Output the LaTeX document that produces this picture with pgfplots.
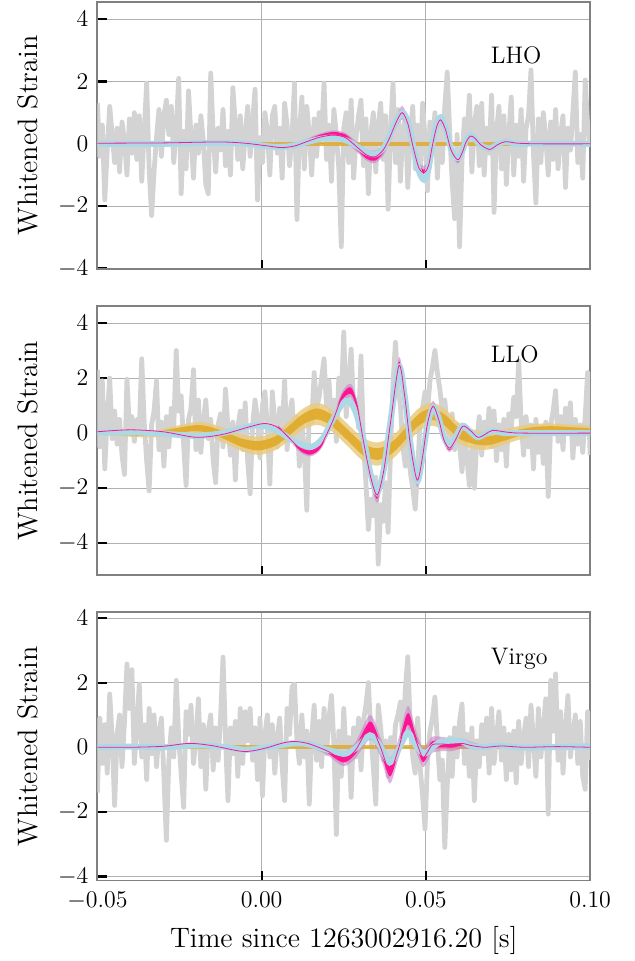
\documentclass[border=0pt]{standalone}
\usepackage{pgfplots}
\pgfplotsset{compat=1.18}
\usepackage{pgfplotstable}

\definecolor{noisegray}{HTML}{D3D3D3}
\definecolor{gridgray}{HTML}{B0B0B0}
\definecolor{framegray}{HTML}{808080}
\definecolor{pinkmed}{HTML}{FF1493}
\definecolor{pinkhalo}{HTML}{CC80C8}
\definecolor{bluemed}{HTML}{ADD8E6}
\definecolor{goldin}{HTML}{E0A723}
\definecolor{goldout}{HTML}{EACB7E}

% whitened detector data, one sample every 0.75 ms from -0.05 s
\pgfplotstableread[row sep=\\]{h\\
1.3\\ -0.4\\ 0.6\\ -1.8\\ -0.2\\ 1.2\\ 0.3\\ -0.6\\ 0.5\\ -0.9\\
0.7\\ 0.1\\ -1.0\\ 0.8\\ -0.3\\ 1.0\\ -0.5\\ 0.9\\ -1.2\\ 0.4\\
1.95\\ -0.8\\ -2.3\\ -0.9\\ 0.2\\ 1.1\\ -0.4\\ 0.9\\ 1.4\\ 0.3\\
1.2\\ -0.6\\ 0.5\\ 2.1\\ -1.6\\ 0.4\\ -0.8\\ 1.7\\ 0.2\\ -1.1\\
0.6\\ -0.3\\ 0.9\\ 0.1\\ -1.3\\ -1.6\\ 2.27\\ 0.3\\ -0.9\\ 0.5\\
-0.2\\ 1.1\\ -0.7\\ 0.4\\ -1.0\\ 1.8\\ 0.6\\ -0.5\\ 0.9\\ -0.8\\
0.3\\ 1.2\\ -0.4\\ 0.7\\ 1.75\\ -1.8\\ 0.2\\ -0.6\\ 1.0\\ 0.4\\
-1.0\\ 0.9\\ 1.2\\ -0.3\\ 0.5\\ -1.1\\ 1.3\\ 0.6\\ -0.7\\ 0.2\\
1.95\\ -2.43\\ 0.4\\ 1.5\\ -0.8\\ 1.2\\ 0.3\\ -1.0\\ 0.8\\ -0.4\\
1.0\\ 0.2\\ 1.95\\ -0.5\\ 0.6\\ -1.2\\ 1.1\\ 0.3\\ -0.8\\ -3.3\\
0.5\\ 1.0\\ -0.6\\ 1.4\\ -1.1\\ 0.2\\ 0.9\\ 1.4\\ -0.7\\ 0.8\\
-1.6\\ 0.3\\ 1.0\\ -0.9\\ 0.6\\ 1.3\\ -0.5\\ 0.9\\ -2.1\\ 0.4\\
1.95\\ -0.6\\ 1.1\\ -1.2\\ 0.5\\ 0.8\\ -1.4\\ 0.3\\ 1.2\\ -0.8\\
0.6\\ -1.0\\ 1.3\\ 0.2\\ -1.5\\ 0.7\\ -0.3\\ 1.0\\ -1.1\\ 0.5\\
-0.6\\ 1.2\\ 2.3\\ 0.4\\ -1.2\\ -2.4\\ 0.3\\ -3.3\\ -0.5\\ 0.8\\
0.2\\ 1.56\\ -0.9\\ 0.6\\ 1.2\\ -0.7\\ 1.3\\ -1.0\\ 0.5\\ -0.3\\
1.56\\ -2.2\\ 0.4\\ 1.2\\ -0.8\\ 0.9\\ -1.3\\ 0.3\\ 1.5\\ -1.0\\
0.6\\ -0.4\\ 1.1\\ -1.2\\ 0.5\\ 0.9\\ 2.37\\ -0.3\\ -1.9\\ 0.8\\
-0.6\\ 1.0\\ 0.2\\ -1.0\\ 0.7\\ -0.5\\ 1.1\\ -0.8\\ 0.3\\ 0.9\\
-1.4\\ 0.5\\ -0.2\\ 1.0\\ 2.3\\ -0.6\\ 0.3\\ -1.1\\ 2.05\\ 0.6\\
-0.1\\
}\noiseLHO

\pgfplotstableread[row sep=\\]{h\\
2.3\\ -0.5\\ 1.9\\ -1.3\\ 0.6\\ 2.0\\ -0.2\\ 0.8\\ -0.4\\ 0.5\\
-0.8\\ -1.5\\ 1.96\\ 0.2\\ 0.6\\ -0.3\\ 0.5\\ 0.1\\ 2.7\\ 0.4\\
-1.0\\ -2.1\\ 0.3\\ 0.8\\ 1.9\\ -0.6\\ 0.4\\ -1.2\\ 0.6\\ -0.5\\
0.9\\ 0.2\\ 3.0\\ 0.8\\ 1.35\\ -0.4\\ -1.9\\ 0.5\\ 0.9\\ 2.3\\
-0.6\\ 1.2\\ -0.7\\ 0.4\\ 1.2\\ -0.2\\ 0.5\\ -1.0\\ -1.8\\ 0.3\\
0.7\\ -0.5\\ 1.6\\ 0.2\\ -0.8\\ 0.4\\ -1.7\\ 0.2\\ 0.8\\ -0.6\\
1.1\\ -1.0\\ -2.2\\ 0.3\\ 1.2\\ 0.5\\ -0.9\\ 1.0\\ 1.5\\ 0.2\\
-1.85\\ 1.5\\ 0.4\\ -0.5\\ 0.9\\ 0.1\\ 1.9\\ -0.6\\ 0.7\\ 1.2\\
-0.3\\ 0.6\\ -1.2\\ 0.3\\ -0.6\\ -2.8\\ 0.8\\ 0.4\\ 2.2\\ 0.9\\
1.3\\ 2.0\\ 2.7\\ 1.0\\ 1.9\\ 0.4\\ 1.2\\ -0.3\\ 2.0\\ 1.1\\
3.67\\ 0.6\\ 1.8\\ 3.05\\ 0.9\\ 1.2\\ 0.2\\ 2.8\\ -0.4\\ -1.8\\
-3.5\\ -2.4\\ -3.0\\ -1.6\\ -4.76\\ -2.6\\ -3.2\\ -1.8\\ -3.6\\ -0.6\\
1.8\\ 3.3\\ 1.7\\ 1.0\\ -0.5\\ -1.2\\ 0.2\\ -1.4\\ -2.0\\ -2.76\\
-1.3\\ 0.4\\ 0.9\\ 1.5\\ 0.8\\ 1.9\\ 2.4\\ 3.0\\ 2.2\\ 1.6\\
0.8\\ 1.2\\ 0.3\\ -0.2\\ 0.7\\ -0.6\\ 0.3\\ -0.4\\ -1.4\\ 0.2\\
-0.9\\ -1.9\\ -0.5\\ -2.0\\ -0.3\\ 0.6\\ -0.8\\ 0.4\\ -0.2\\ 0.9\\
-0.5\\ 0.8\\ -1.0\\ 0.3\\ -0.6\\ 0.5\\ -1.2\\ 0.7\\ 0.2\\ 1.3\\
0.6\\ 2.63\\ 0.4\\ -0.8\\ 0.6\\ -0.5\\ 0.3\\ -1.3\\ 0.5\\ -0.7\\
0.2\\ -1.1\\ 0.4\\ -2.3\\ 0.3\\ 0.8\\ 1.54\\ -0.3\\ 0.6\\ -0.6\\
0.9\\ 0.3\\ 1.1\\ -0.9\\ 0.5\\ -0.4\\ 0.3\\ -0.7\\ 0.6\\ 2.2\\
-0.8\\
}\noiseLLO

\pgfplotstableread[row sep=\\]{h\\
-1.4\\ 0.9\\ -0.5\\ 0.7\\ -0.8\\ 1.65\\ 0.3\\ -1.8\\ 0.4\\ 1.0\\
-0.6\\ 0.8\\ 2.58\\ 1.2\\ 2.4\\ -0.5\\ 0.6\\ 1.96\\ -0.3\\ 0.7\\
-1.0\\ 1.2\\ -0.2\\ 1.0\\ -0.6\\ 0.5\\ 0.9\\ -0.9\\ -2.88\\ -0.4\\
0.6\\ -0.3\\ 2.07\\ 0.3\\ -0.8\\ -1.86\\ 1.1\\ 0.4\\ 1.3\\ -0.5\\
0.2\\ 1.5\\ -0.6\\ 0.7\\ -1.3\\ 0.5\\ 1.0\\ -0.7\\ 0.6\\ -0.4\\
0.9\\ 2.79\\ 0.3\\ -1.65\\ 0.6\\ -0.2\\ 0.8\\ -0.9\\ 1.2\\ -0.5\\
1.1\\ 0.2\\ 1.2\\ -0.4\\ 0.6\\ -1.0\\ 0.9\\ -1.5\\ 0.4\\ 1.0\\
-0.3\\ 0.7\\ -0.8\\ 0.3\\ 0.9\\ -0.6\\ -1.65\\ 1.2\\ 0.4\\ 1.86\\
1.96\\ 0.2\\ -0.5\\ 1.0\\ -0.3\\ 0.5\\ -1.76\\ 0.3\\ 1.3\\ -0.4\\
0.8\\ -0.6\\ 1.2\\ -0.2\\ 0.9\\ 1.6\\ 0.1\\ -2.7\\ 0.5\\ -0.9\\
1.2\\ -0.4\\ 0.3\\ -1.55\\ 0.6\\ -0.3\\ 0.9\\ -0.7\\ 0.8\\ 1.3\\
2.0\\ 0.4\\ -0.6\\ -1.76\\ 1.3\\ 0.6\\ -0.4\\ 0.2\\ -0.9\\ 0.3\\
-0.5\\ 0.7\\ 1.0\\ 1.4\\ 0.2\\ 1.8\\ 2.8\\ 0.6\\ -0.3\\ -0.8\\
0.9\\ -0.6\\ -1.5\\ -2.53\\ -0.4\\ 0.5\\ 0.9\\ 1.55\\ 0.2\\ -1.0\\
-0.4\\ -3.1\\ -1.2\\ 0.3\\ -0.9\\ 0.6\\ -0.3\\ 0.8\\ 1.34\\ -0.5\\
0.4\\ -0.9\\ 0.6\\ -1.65\\ 0.2\\ -0.6\\ 0.7\\ -0.2\\ 0.9\\ -0.8\\
1.2\\ -0.5\\ 0.3\\ 1.1\\ -0.4\\ 0.6\\ -1.0\\ 0.4\\ -0.7\\ 0.5\\
-1.1\\ 0.8\\ -0.5\\ 0.3\\ 0.9\\ -0.6\\ 1.3\\ 0.2\\ -0.9\\ 1.2\\
-0.3\\ 0.6\\ 1.5\\ -2.07\\ 2.07\\ 0.5\\ 2.27\\ -0.4\\ 1.1\\ -0.8\\
0.6\\ 1.6\\ -0.3\\ 0.4\\ 1.0\\ -0.5\\ 0.8\\ -0.9\\ -1.3\\ 1.1\\
-0.4\\
}\noiseVirgo

% median waveforms
\pgfplotstableread[row sep=\\]{t h\\
-0.05 0\\ -0.03 0\\ -0.02 0.02\\ -0.012 0.03\\ -0.004 0\\ 0.002 -0.08\\ 0.006 -0.1\\
0.010 -0.05\\ 0.014 0.06\\ 0.018 0.16\\ 0.022 0.2\\ 0.026 0.1\\ 0.029 -0.08\\
0.032 -0.28\\ 0.0345 -0.34\\ 0.037 -0.15\\ 0.039 0.25\\ 0.041 0.75\\ 0.043 1.0\\
0.0445 0.7\\ 0.046 0\\ 0.0478 -0.85\\ 0.0494 -1.15\\ 0.0508 -0.8\\ 0.052 0\\
0.0533 0.65\\ 0.0546 0.85\\ 0.056 0.5\\ 0.0575 -0.1\\ 0.0588 -0.4\\ 0.0600 -0.45\\
0.0612 -0.2\\ 0.0622 0.1\\ 0.0636 0.27\\ 0.065 0.15\\ 0.0667 -0.05\\ 0.0694 -0.15\\
0.0718 -0.02\\ 0.0742 0.07\\ 0.078 0\\ 0.085 0.01\\ 0.1 0\\
}\lhoBlue

\pgfplotstableread[row sep=\\]{t h\\
-0.05 0.02\\ -0.03 0.03\\ -0.02 0.05\\ -0.012 0.06\\ -0.005 0.02\\ 0.002 -0.07\\
0.006 -0.12\\ 0.010 -0.07\\ 0.014 0.08\\ 0.018 0.22\\ 0.022 0.28\\ 0.0255 0.2\\
0.029 -0.1\\ 0.032 -0.36\\ 0.0345 -0.42\\ 0.037 -0.2\\ 0.039 0.2\\ 0.041 0.7\\
0.0428 1.0\\ 0.0445 0.65\\ 0.046 -0.05\\ 0.0478 -0.75\\ 0.0494 -0.93\\ 0.0508 -0.7\\
0.052 -0.05\\ 0.0533 0.55\\ 0.0545 0.77\\ 0.056 0.45\\ 0.0575 -0.15\\ 0.059 -0.45\\
0.060 -0.5\\ 0.0612 -0.25\\ 0.0622 0.05\\ 0.0636 0.25\\ 0.065 0.17\\ 0.0667 -0.03\\
0.0694 -0.18\\ 0.0718 -0.03\\ 0.0742 0.07\\ 0.078 0.02\\ 0.085 0\\ 0.1 0\\
}\lhoPink

\pgfplotstableread[row sep=\\]{t h\\
-0.05 0.02\\ -0.04 0.03\\ -0.03 -0.02\\ -0.02 -0.1\\ -0.012 0\\ -0.006 0.18\\
-0.002 0.28\\ 0.002 0.22\\ 0.006 0\\ 0.010 -0.3\\ 0.015 -0.5\\ 0.0185 -0.2\\
0.0215 0.45\\ 0.0245 1.05\\ 0.0265 1.17\\ 0.0285 0.8\\ 0.031 -0.2\\ 0.0332 -1.5\\
0.0352 -2.16\\ 0.0372 -1.3\\ 0.0392 0.4\\ 0.0418 2.4\\ 0.0435 1.4\\ 0.0452 -0.3\\
0.0473 -1.73\\ 0.0488 -1.0\\ 0.0505 0.3\\ 0.0523 0.94\\ 0.0540 0.5\\ 0.0555 -0.15\\
0.0572 -0.46\\ 0.059 -0.15\\ 0.0612 0.27\\ 0.0635 0.05\\ 0.0658 -0.15\\ 0.068 -0.03\\
0.0703 0.08\\ 0.074 0\\ 0.08 0\\ 0.1 0\\
}\lloBlue

\pgfplotstableread[row sep=\\]{t h\\
-0.05 0.05\\ -0.04 0.12\\ -0.03 0.05\\ -0.02 -0.15\\ -0.012 -0.05\\ -0.004 0.22\\
0.001 0.35\\ 0.005 0.2\\ 0.009 -0.25\\ 0.012 -0.6\\ 0.015 -0.7\\ 0.018 -0.45\\
0.0215 0.4\\ 0.0245 1.3\\ 0.0272 1.54\\ 0.0292 0.9\\ 0.031 -0.3\\ 0.0332 -1.6\\
0.0352 -2.25\\ 0.0372 -1.35\\ 0.0392 0.35\\ 0.0418 2.45\\ 0.0435 1.4\\ 0.0452 -0.35\\
0.0473 -1.7\\ 0.0488 -1.0\\ 0.0505 0.35\\ 0.0522 0.98\\ 0.054 0.45\\ 0.0555 -0.25\\
0.0572 -0.55\\ 0.059 -0.25\\ 0.0612 0.25\\ 0.0635 0.1\\ 0.0658 -0.15\\ 0.068 -0.05\\
0.0703 0.1\\ 0.075 0.03\\ 0.08 0\\ 0.1 0\\
}\lloPink

\pgfplotstableread[row sep=\\]{t h\\
-0.05 0\\ -0.04 0.02\\ -0.03 0\\ -0.02 0.06\\ -0.012 0.02\\ -0.005 -0.08\\
0.0 -0.02\\ 0.005 0.05\\ 0.0095 0.12\\ 0.014 0.1\\ 0.019 -0.05\\ 0.0225 -0.14\\
0.0255 -0.2\\ 0.029 0\\ 0.033 0.37\\ 0.036 0.05\\ 0.039 -0.47\\ 0.0415 -0.1\\
0.0445 0.45\\ 0.047 0.05\\ 0.0495 -0.2\\ 0.052 0\\ 0.054 0.15\\ 0.057 0.2\\
0.0605 0.2\\ 0.0635 0.05\\ 0.067 0\\ 0.072 0.05\\ 0.078 0\\ 0.085 0\\ 0.1 0.03\\
}\virgoBlue

\pgfplotstableread[row sep=\\]{t h\\
-0.05 0\\ -0.04 0\\ -0.03 0.03\\ -0.022 0.12\\ -0.015 0.05\\ -0.0055 -0.13\\
0.001 -0.03\\ 0.006 0.12\\ 0.0097 0.18\\ 0.014 0.12\\ 0.0197 -0.1\\ 0.0248 -0.36\\
0.0285 -0.1\\ 0.033 0.62\\ 0.036 0.05\\ 0.039 -0.72\\ 0.0415 -0.1\\ 0.0445 0.88\\
0.047 0.2\\ 0.049 -0.31\\ 0.0505 -0.15\\ 0.052 0.08\\ 0.055 0.1\\ 0.058 0.08\\
0.061 0.12\\ 0.064 0.05\\ 0.068 0\\ 0.073 0.04\\ 0.08 0\\ 0.09 0.02\\ 0.1 0\\
}\virgoPink

\pgfplotstableread[row sep=\\]{t h\\
-0.05 0\\ 0.1 0\\
}\flatGold

% credible bands as closed outlines: upper edge left to right (h + w),
% then lower edge right to left (negative widths), outer wo and inner wi
\pgfplotstableread[row sep=\\]{t h wo wi\\
0.006 -0.12 0.06 0.03\\ 0.010 -0.07 0.07 0.04\\ 0.014 0.08 0.09 0.06\\
0.018 0.22 0.12 0.08\\ 0.022 0.28 0.15 0.1\\ 0.0255 0.2 0.15 0.1\\
0.029 -0.1 0.16 0.1\\ 0.032 -0.36 0.18 0.12\\ 0.0345 -0.42 0.2 0.12\\
0.037 -0.2 0.18 0.1\\ 0.039 0.2 0.16 0.09\\ 0.041 0.7 0.18 0.09\\
0.0428 1.0 0.22 0.1\\ 0.0445 0.65 0.18 0.09\\ 0.046 -0.05 0.16 0.08\\
0.0478 -0.75 0.18 0.09\\ 0.0494 -0.93 0.22 0.1\\ 0.0508 -0.7 0.18 0.09\\
0.052 -0.05 0.15 0.08\\ 0.0533 0.55 0.16 0.08\\ 0.0545 0.77 0.18 0.09\\
0.056 0.45 0.15 0.08\\ 0.0575 -0.15 0.12 0.06\\ 0.059 -0.45 0.12 0.06\\
0.060 -0.5 0.12 0.06\\ 0.0612 -0.25 0.1 0.05\\ 0.0622 0.05 0.09 0.045\\
0.0636 0.25 0.09 0.045\\ 0.065 0.17 0.08 0.04\\ 0.0667 -0.03 0.07 0.035\\
0.0694 -0.18 0.06 0.03\\ 0.0718 -0.03 0.05 0.025\\ 0.0742 0.07 0.05 0.025\\
0.078 0.02 0.04 0.02\\ 0.085 0 0.03 0.015\\
0.085 0 -0.03 -0.015\\ 0.078 0.02 -0.04 -0.02\\ 0.0742 0.07 -0.05 -0.025\\
0.0718 -0.03 -0.05 -0.025\\ 0.0694 -0.18 -0.06 -0.03\\ 0.0667 -0.03 -0.07 -0.035\\
0.065 0.17 -0.08 -0.04\\ 0.0636 0.25 -0.09 -0.045\\ 0.0622 0.05 -0.09 -0.045\\
0.0612 -0.25 -0.1 -0.05\\ 0.060 -0.5 -0.12 -0.06\\ 0.059 -0.45 -0.12 -0.06\\
0.0575 -0.15 -0.12 -0.06\\ 0.056 0.45 -0.15 -0.08\\ 0.0545 0.77 -0.18 -0.09\\
0.0533 0.55 -0.16 -0.08\\ 0.052 -0.05 -0.15 -0.08\\ 0.0508 -0.7 -0.18 -0.09\\
0.0494 -0.93 -0.22 -0.1\\ 0.0478 -0.75 -0.18 -0.09\\ 0.046 -0.05 -0.16 -0.08\\
0.0445 0.65 -0.18 -0.09\\ 0.0428 1.0 -0.22 -0.1\\ 0.041 0.7 -0.18 -0.09\\
0.039 0.2 -0.16 -0.09\\ 0.037 -0.2 -0.18 -0.1\\ 0.0345 -0.42 -0.2 -0.12\\
0.032 -0.36 -0.18 -0.12\\ 0.029 -0.1 -0.16 -0.1\\ 0.0255 0.2 -0.15 -0.1\\
0.022 0.28 -0.15 -0.1\\ 0.018 0.22 -0.12 -0.08\\ 0.014 0.08 -0.09 -0.06\\
0.010 -0.07 -0.07 -0.04\\ 0.006 -0.12 -0.06 -0.03\\
}\lhoBand

\pgfplotstableread[row sep=\\]{t h wo wi\\
0.005 0.2 0.09 0.045\\ 0.009 -0.25 0.1 0.05\\ 0.012 -0.6 0.12 0.06\\
0.015 -0.7 0.14 0.08\\ 0.018 -0.45 0.14 0.08\\ 0.0215 0.4 0.15 0.08\\
0.0245 1.3 0.2 0.1\\ 0.0272 1.54 0.25 0.12\\ 0.0292 0.9 0.2 0.1\\
0.031 -0.3 0.18 0.09\\ 0.0332 -1.6 0.22 0.1\\ 0.0352 -2.25 0.28 0.13\\
0.0372 -1.35 0.22 0.1\\ 0.0392 0.35 0.2 0.1\\ 0.0418 2.45 0.3 0.14\\
0.0435 1.4 0.22 0.1\\ 0.0452 -0.35 0.2 0.1\\ 0.0473 -1.7 0.25 0.12\\
0.0488 -1.0 0.2 0.1\\ 0.0505 0.35 0.18 0.09\\ 0.0522 0.98 0.2 0.1\\
0.054 0.45 0.16 0.08\\ 0.0555 -0.25 0.14 0.07\\ 0.0572 -0.55 0.14 0.07\\
0.059 -0.25 0.12 0.06\\ 0.0612 0.25 0.1 0.05\\ 0.0635 0.1 0.08 0.04\\
0.0658 -0.15 0.07 0.035\\ 0.068 -0.05 0.06 0.03\\ 0.0703 0.1 0.05 0.025\\
0.075 0.03 0.04 0.02\\ 0.08 0 0.03 0.015\\
0.08 0 -0.03 -0.015\\ 0.075 0.03 -0.04 -0.02\\ 0.0703 0.1 -0.05 -0.025\\
0.068 -0.05 -0.06 -0.03\\ 0.0658 -0.15 -0.07 -0.035\\ 0.0635 0.1 -0.08 -0.04\\
0.0612 0.25 -0.1 -0.05\\ 0.059 -0.25 -0.12 -0.06\\ 0.0572 -0.55 -0.14 -0.07\\
0.0555 -0.25 -0.14 -0.07\\ 0.054 0.45 -0.16 -0.08\\ 0.0522 0.98 -0.2 -0.1\\
0.0505 0.35 -0.18 -0.09\\ 0.0488 -1.0 -0.2 -0.1\\ 0.0473 -1.7 -0.25 -0.12\\
0.0452 -0.35 -0.2 -0.1\\ 0.0435 1.4 -0.22 -0.1\\ 0.0418 2.45 -0.3 -0.14\\
0.0392 0.35 -0.2 -0.1\\ 0.0372 -1.35 -0.22 -0.1\\ 0.0352 -2.25 -0.28 -0.13\\
0.0332 -1.6 -0.22 -0.1\\ 0.031 -0.3 -0.18 -0.09\\ 0.0292 0.9 -0.2 -0.1\\
0.0272 1.54 -0.25 -0.12\\ 0.0245 1.3 -0.2 -0.1\\ 0.0215 0.4 -0.15 -0.08\\
0.018 -0.45 -0.14 -0.08\\ 0.015 -0.7 -0.14 -0.08\\ 0.012 -0.6 -0.12 -0.06\\
0.009 -0.25 -0.1 -0.05\\ 0.005 0.2 -0.09 -0.045\\
}\lloBand

\pgfplotstableread[row sep=\\]{t h wo wi\\
-0.05 0 0.06 0.03\\ -0.043 -0.03 0.08 0.04\\ -0.037 -0.05 0.1 0.05\\
-0.032 -0.02 0.12 0.06\\ -0.027 0.08 0.16 0.08\\ -0.02 0.18 0.22 0.11\\
-0.016 0.12 0.24 0.12\\ -0.012 -0.05 0.26 0.13\\ -0.006 -0.35 0.3 0.15\\
-0.001 -0.46 0.33 0.17\\ 0.004 -0.3 0.33 0.17\\ 0.008 0.05 0.35 0.18\\
0.0125 0.5 0.38 0.19\\ 0.017 0.7 0.4 0.2\\ 0.0215 0.45 0.4 0.2\\
0.026 -0.05 0.4 0.2\\ 0.031 -0.6 0.42 0.21\\ 0.0355 -0.76 0.42 0.21\\
0.040 -0.5 0.42 0.21\\ 0.044 0 0.42 0.21\\ 0.048 0.5 0.42 0.21\\
0.052 0.69 0.42 0.21\\ 0.056 0.45 0.4 0.2\\ 0.060 0 0.38 0.19\\
0.0645 -0.22 0.35 0.17\\ 0.0688 -0.28 0.32 0.16\\ 0.0735 -0.15 0.28 0.14\\
0.078 0 0.25 0.12\\ 0.0835 0.12 0.22 0.11\\ 0.089 0.15 0.2 0.1\\
0.095 0.12 0.18 0.09\\ 0.1 0.08 0.17 0.085\\
0.1 0.08 -0.17 -0.085\\ 0.095 0.12 -0.18 -0.09\\ 0.089 0.15 -0.2 -0.1\\
0.0835 0.12 -0.22 -0.11\\ 0.078 0 -0.25 -0.12\\ 0.0735 -0.15 -0.28 -0.14\\
0.0688 -0.28 -0.32 -0.16\\ 0.0645 -0.22 -0.35 -0.17\\ 0.060 0 -0.38 -0.19\\
0.056 0.45 -0.4 -0.2\\ 0.052 0.69 -0.42 -0.21\\ 0.048 0.5 -0.42 -0.21\\
0.044 0 -0.42 -0.21\\ 0.040 -0.5 -0.42 -0.21\\ 0.0355 -0.76 -0.42 -0.21\\
0.031 -0.6 -0.42 -0.21\\ 0.026 -0.05 -0.4 -0.2\\ 0.0215 0.45 -0.4 -0.2\\
0.017 0.7 -0.4 -0.2\\ 0.0125 0.5 -0.38 -0.19\\ 0.008 0.05 -0.35 -0.18\\
0.004 -0.3 -0.33 -0.17\\ -0.001 -0.46 -0.33 -0.17\\ -0.006 -0.35 -0.3 -0.15\\
-0.012 -0.05 -0.26 -0.13\\ -0.016 0.12 -0.24 -0.12\\ -0.02 0.18 -0.22 -0.11\\
-0.027 0.08 -0.16 -0.08\\ -0.032 -0.02 -0.12 -0.06\\ -0.037 -0.05 -0.1 -0.05\\
-0.043 -0.03 -0.08 -0.04\\ -0.05 0 -0.06 -0.03\\
}\lloGoldBand

\pgfplotstableread[row sep=\\]{t h wo wi\\
0.014 0.12 0.08 0.045\\ 0.0197 -0.1 0.12 0.06\\ 0.0248 -0.36 0.22 0.11\\
0.0285 -0.1 0.25 0.12\\ 0.033 0.62 0.38 0.18\\ 0.036 0.05 0.3 0.14\\
0.039 -0.72 0.4 0.18\\ 0.0415 -0.1 0.3 0.14\\ 0.0445 0.88 0.4 0.18\\
0.047 0.2 0.32 0.14\\ 0.049 -0.31 0.3 0.14\\ 0.0505 -0.15 0.28 0.12\\
0.052 0.08 0.25 0.11\\ 0.055 0.1 0.22 0.1\\ 0.058 0.08 0.2 0.09\\
0.061 0.12 0.16 0.07\\ 0.064 0.05 0.11 0.05\\ 0.068 0 0.07 0.035\\
0.073 0.04 0.05 0.025\\
0.073 0.04 -0.05 -0.025\\ 0.068 0 -0.07 -0.035\\ 0.064 0.05 -0.11 -0.05\\
0.061 0.12 -0.16 -0.07\\ 0.058 0.08 -0.2 -0.09\\ 0.055 0.1 -0.22 -0.1\\
0.052 0.08 -0.25 -0.11\\ 0.0505 -0.15 -0.28 -0.12\\ 0.049 -0.31 -0.3 -0.14\\
0.047 0.2 -0.32 -0.14\\ 0.0445 0.88 -0.4 -0.18\\ 0.0415 -0.1 -0.3 -0.14\\
0.039 -0.72 -0.4 -0.18\\ 0.036 0.05 -0.3 -0.14\\ 0.033 0.62 -0.38 -0.18\\
0.0285 -0.1 -0.25 -0.12\\ 0.0248 -0.36 -0.22 -0.11\\ 0.0197 -0.1 -0.12 -0.06\\
0.014 0.12 -0.08 -0.045\\
}\virgoBand

% filled band: table #1, width column #2, colour #3, opacity #4
\newcommand{\band}[4]{%
  \addplot[fill=#3, fill opacity=#4, draw=none, smooth, forget plot]
    table[x=t, y expr=\thisrow{h}+\thisrow{#2}] {#1};
}

\pgfplotsset{
  strainpanel/.style={
    scale only axis, width=247.15pt,
    xmin=-0.05, xmax=0.10,
    xtick={-0.05,0,0.05,0.10}, ytick={-4,-2,0,2,4},
    tick pos=left, tick align=inside,
    major tick length=4.6pt,
    tick style={black, line width=1.1pt},
    axis line style={framegray, line width=1pt},
    grid=major,
    major grid style={gridgray, line width=0.45pt},
    ticklabel style={font=\fontsize{12}{14}\selectfont},
    yticklabel style={xshift=-1pt},
    ylabel={Whitened Strain},
    every axis y label/.style={at={(axis description cs:-0.1407,0.5)},
      rotate=90, anchor=center, font=\fontsize{14.1}{17}\selectfont},
    scaled x ticks=false,
    xticklabel style={anchor=base, yshift=-13.6pt,
      /pgf/number format/.cd, fixed, fixed zerofill, precision=2},
    clip=true,
  },
  noise/.style={noisegray, line width=2.4pt, line join=round},
  goldflat/.style={goldin, opacity=0.8, line width=2pt},
  bluecurve/.style={bluemed, line width=3pt, smooth, line cap=round},
  pinkline/.style={pinkmed, line width=0.4pt, smooth},
}
\tikzset{site/.style={anchor=base west, inner sep=0pt, font=\fontsize{12}{14}\selectfont}}

\begin{document}
\begin{tikzpicture}

% LHO
\begin{axis}[strainpanel, at={(48.85pt,-0.85pt)}, anchor=north west,
  height=134.15pt, ymin=-4.02, ymax=4.56, xticklabels={}]
  \addplot[noise] table[x expr=\coordindex*0.00075-0.05, y=h] {\noiseLHO};
  \addplot[goldflat] table[x=t, y=h] {\flatGold};
  \band{\lhoBand}{wo}{pinkhalo}{0.6}
  \band{\lhoBand}{wi}{pinkmed}{1}
  \addplot[bluecurve] table[x=t, y=h] {\lhoBlue};
  \addplot[pinkline] table[x=t, y=h] {\lhoPink};
  \node[site] at (axis cs:0.0697,2.57) {LHO};
\end{axis}

% LLO
\begin{axis}[strainpanel, at={(48.85pt,-153.65pt)}, anchor=north west,
  height=134.7pt, ymin=-5.147, ymax=4.605, xticklabels={}]
  \addplot[noise] table[x expr=\coordindex*0.00075-0.05, y=h] {\noiseLLO};
  \band{\lloGoldBand}{wo}{goldout}{0.85}
  \band{\lloGoldBand}{wi}{goldin}{0.85}
  \band{\lloBand}{wo}{pinkhalo}{0.6}
  \band{\lloBand}{wi}{pinkmed}{1}
  \addplot[bluecurve] table[x=t, y=h] {\lloBlue};
  \addplot[pinkline] table[x=t, y=h] {\lloPink};
  \node[site] at (axis cs:0.0697,2.57) {LLO};
\end{axis}

% Virgo
\begin{axis}[strainpanel, at={(48.85pt,-307pt)}, anchor=north west,
  height=134.65pt, ymin=-4.123, ymax=4.185,
  xlabel={Time since 1263002916.20 [s]},
  every axis x label/.style={at={(axis description cs:0.5,-0.249)},
    anchor=base, font=\fontsize{14.1}{17}\selectfont}]
  \addplot[noise] table[x expr=\coordindex*0.00075-0.05, y=h] {\noiseVirgo};
  \addplot[goldflat] table[x=t, y=h] {\flatGold};
  \band{\virgoBand}{wo}{pinkhalo}{0.6}
  \band{\virgoBand}{wi}{pinkmed}{1}
  \addplot[bluecurve] table[x=t, y=h] {\virgoBlue};
  \addplot[pinkline] table[x=t, y=h] {\virgoPink};
  \node[site] at (axis cs:0.0697,2.57) {Virgo};
\end{axis}

% page frame
\path[use as bounding box] (0,0) rectangle (318.5pt,-480.5pt);
\end{tikzpicture}
\end{document}
